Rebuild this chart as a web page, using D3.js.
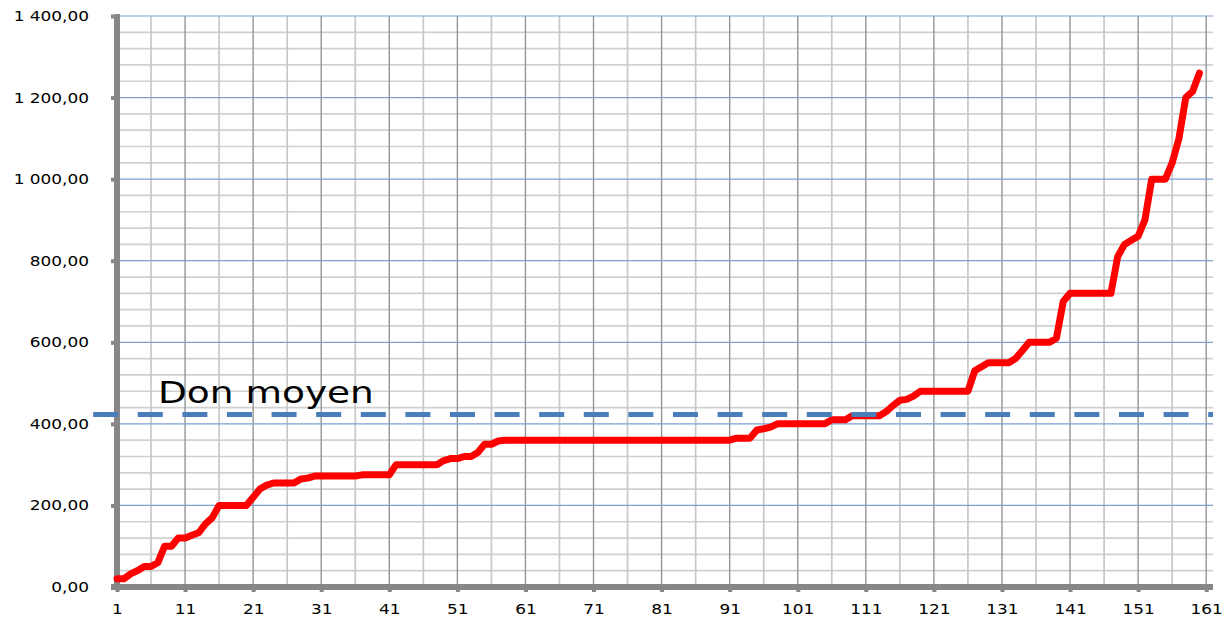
<!DOCTYPE html>
<html>
<head>
<meta charset="utf-8">
<script src="https://cdn.jsdelivr.net/npm/d3@7"></script>
<style>
  body { margin: 0; background: #fff; }
  svg { display: block; font-family: "DejaVu Sans", Verdana, sans-serif; }
</style>
</head>
<body>
<svg id="chart" width="1232" height="618"></svg>
<script>
// donations, sorted ascending
let dons = [
  20, 20, 32, 40, 50, 50, 60, 100, 100, 120,
  120, 127, 133, 155, 170, 200, 200, 200, 200, 200,
  220, 240, 250, 255, 255, 255, 255, 265, 267, 272,
  272, 272, 272, 272, 272, 272, 275, 275, 275, 275,
  275, 300, 300, 300, 300, 300, 300, 300, 310, 315,
  315, 320, 320, 330, 350, 350, 358, 360, 360, 360,
  360, 360, 360, 360, 360, 360, 360, 360, 360, 360,
  360, 360, 360, 360, 360, 360, 360, 360, 360, 360,
  360, 360, 360, 360, 360, 360, 360, 360, 360, 360,
  360, 365, 365, 365, 385, 388, 392, 400, 400, 400,
  400, 400, 400, 400, 400, 410, 410, 410, 420, 420,
  420, 420, 420, 430, 445, 458, 460, 468, 480, 480,
  480, 480, 480, 480, 480, 480, 530, 540, 550, 550,
  550, 550, 560, 580, 600, 600, 600, 600, 610, 700,
  720, 720, 720, 720, 720, 720, 720, 810, 840, 850,
  860, 900, 1000, 1000, 1000, 1040, 1100, 1200, 1215, 1260
];

let donMoyen = 423;
let donMoyenLabel = "Don moyen";
let moyenSpan = [-2.5, 162]; // the dashed line starts left of the axis

let xTicks = d3.range(1, 162, 10);          // 1, 11, ... 161
let xMinor = d3.range(6, 162, 10);          // 6, 16, ... 156
let yTicks = d3.range(0, 1401, 200);
let yMinor = d3.range(0, 1401, 40).filter(v => v % 200 != 0);

let drawChart = function() {
  let svg = d3.select("#chart");

  let x = d3.scaleLinear().domain([1, 162]).range([117, 1213]);
  let y = d3.scaleLinear().domain([0, 1400]).range([587, 16]);

  let fr = d3.formatLocale({decimal: ",", thousands: " ", grouping: [3], currency: ["", ""]});
  let fmt = fr.format(",.2f");

  let textScale = 1.21;

  // gridlines
  let grid = svg.append("g").attr("id", "grid");
  grid.selectAll("line.hmin").data(yMinor).enter().append("line")
    .attr("x1", x(1)).attr("x2", x(162))
    .attr("y1", d => y(d)).attr("y2", d => y(d))
    .attr("stroke", "#d0d0d0").attr("stroke-width", 1.7);
  grid.selectAll("line.vmin").data(xMinor).enter().append("line")
    .attr("x1", d => x(d)).attr("x2", d => x(d))
    .attr("y1", y(0)).attr("y2", y(1400))
    .attr("stroke", "#c8c8c8").attr("stroke-width", 1.7);
  grid.selectAll("line.vmaj").data(xTicks.slice(1)).enter().append("line")
    .attr("x1", d => x(d)).attr("x2", d => x(d))
    .attr("y1", y(0)).attr("y2", y(1400))
    .attr("stroke", "#959595").attr("stroke-width", 1.4);
  grid.selectAll("line.hmaj").data(yTicks.slice(1)).enter().append("line")
    .attr("x1", x(1)).attr("x2", x(162))
    .attr("y1", d => y(d)).attr("y2", d => y(d))
    .attr("stroke", "#7f9fd0").attr("stroke-width", 1.2);

  // axes
  let yAxis = d3.axisLeft(y).tickValues(yTicks).tickFormat(fmt).tickSize(6).tickSizeOuter(0);
  let yGroup = svg.append("g").attr("transform", "translate(" + x(1) + ",0)").call(yAxis);
  yGroup.attr("font-family", null).attr("font-size", null);
  yGroup.select(".domain").attr("stroke", "#878787").attr("stroke-width", 6)
    .attr("d", "M0," + (y(0) + 3) + "V" + (y(1400) - 2));
  yGroup.selectAll(".tick line").attr("stroke", "#878787").attr("stroke-width", 4);
  yGroup.selectAll(".tick text")
    .attr("x", -28 / textScale)
    .attr("transform", "scale(" + textScale + ",1)")
    .attr("fill", "#000")
    .style("font-size", "14px");

  let xAxis = d3.axisBottom(x).tickValues(xTicks).tickSize(5).tickSizeOuter(0);
  let xGroup = svg.append("g").attr("transform", "translate(0," + y(0) + ")").call(xAxis);
  xGroup.attr("font-family", null).attr("font-size", null);
  xGroup.select(".domain").attr("stroke", "#878787").attr("stroke-width", 6)
    .attr("d", "M" + (x(1) - 6) + ",0H" + x(162));
  xGroup.selectAll(".tick line").attr("stroke", "#878787").attr("stroke-width", 4);
  xGroup.selectAll(".tick text")
    .attr("y", 27).attr("dy", null)
    .attr("transform", "scale(" + textScale + ",1)")
    .attr("fill", "#000")
    .style("font-size", "14px");

  // the donations line
  let line = d3.line()
    .x((d, i) => x(i + 1))
    .y(d => y(d));

  svg.append("path")
    .datum(dons)
    .attr("d", line)
    .attr("fill", "none")
    .attr("stroke", "#ff0000")
    .attr("stroke-width", 7)
    .attr("stroke-linejoin", "round")
    .attr("stroke-linecap", "round");

  // average donation
  svg.append("line")
    .attr("x1", x(moyenSpan[0])).attr("x2", x(moyenSpan[1]))
    .attr("y1", y(donMoyen)).attr("y2", y(donMoyen))
    .attr("stroke", "#4a7ebb")
    .attr("stroke-width", 5)
    .attr("stroke-dasharray", "25,19.6");

  svg.append("text")
    .attr("x", 158 / 1.25)
    .attr("y", 403)
    .attr("transform", "scale(1.25,1)")
    .style("font-size", "30px")
    .attr("fill", "#000")
    .text(donMoyenLabel);
};

drawChart();
</script>
</body>
</html>
